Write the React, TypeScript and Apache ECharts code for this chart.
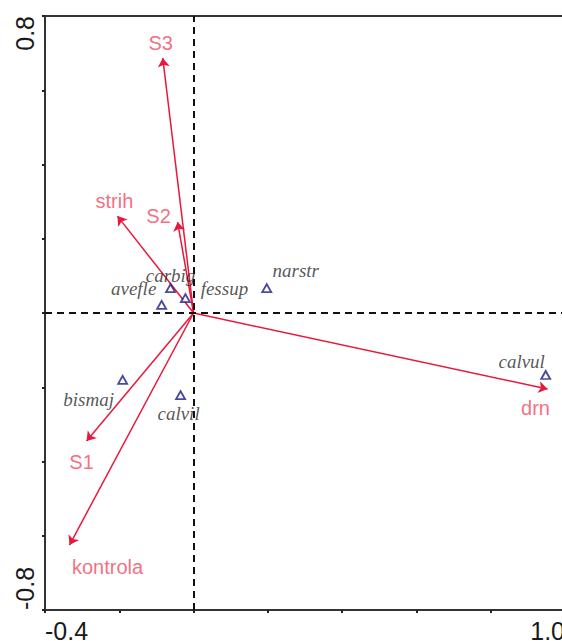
import React, { useEffect, useRef } from "react";
import * as echarts from "echarts";

// Environmental variables (arrow tips, ordination scores)
const envNames = ["S3", "strih", "S2", "S1", "kontrola", "drn"];
const envX = [-0.083, -0.205, -0.043, -0.288, -0.334, 0.953];
const envY = [0.687, 0.261, 0.245, -0.345, -0.625, -0.205];
const envLabelOffsets = [
  [-2, -15],
  [-3, -15],
  [-19, -6],
  [-5, 21],
  [38, 22],
  [-12, 19],
];

// Species scores
const speciesNames = ["carbig", "avefle", "fessup", "narstr", "bismaj", "calvil", "calvul"];
const speciesX = [-0.062, -0.086, -0.022, 0.197, -0.191, -0.035, 0.948];
const speciesY = [0.067, 0.022, 0.04, 0.067, -0.18, -0.221, -0.167];
const speciesLabelOffsets = [
  [0, -13],
  [-28, -16],
  [39, -10],
  [29, -18],
  [-34, 20],
  [-2, 18],
  [-24, -13],
];

// Axes
const xRange = [-0.4, 1.0];
const yRange = [-0.8, 0.8];
const tickStep = 0.2;
const xTickLabels = ["-0.4", "1.0"];
const yTickLabels = ["-0.8", "0.8"];

const ARROW = "#e8183c";
const ARROW_TEXT = "#ef4a60";
const SPECIES = "#1c1c8a";
const FRAME = "#333333";

const endLabel = (labels: string[], range: number[]) => (v: number) => {
  if (Math.abs(v - range[0]) < 1e-9) return labels[0];
  if (Math.abs(v - range[1]) < 1e-9) return labels[1];
  return "";
};

export default function App() {
  const ref = useRef<HTMLDivElement>(null);

  useEffect(() => {
    if (!ref.current) return;
    const chart = echarts.init(ref.current, undefined, { renderer: "svg" });

    const tickFont = {
      fontFamily: "Liberation Sans, Arial, sans-serif",
      fontSize: 25,
      color: "#1a1a1a",
    };

    chart.setOption({
      animation: false,
      backgroundColor: "#ffffff",
      grid: {
        left: 45,
        top: 16,
        width: 520,
        height: 594,
        outerBoundsMode: "none",
        containLabel: false,
        show: true,
        borderColor: FRAME,
        borderWidth: 2,
        backgroundColor: "transparent",
      },
      xAxis: {
        type: "value",
        min: xRange[0],
        max: xRange[1],
        interval: tickStep,
        splitLine: { show: false },
        axisLine: { show: true, onZero: false, lineStyle: { color: FRAME, width: 2 } },
        axisTick: { show: true, length: 3, lineStyle: { color: "#222", width: 2 } },
        axisLabel: {
          ...tickFont,
          margin: 8,
          showMinLabel: true,
          showMaxLabel: true,
          alignMinLabel: "left",
          alignMaxLabel: "right",
          formatter: endLabel(xTickLabels, xRange),
        },
      },
      yAxis: {
        type: "value",
        min: yRange[0],
        max: yRange[1],
        interval: tickStep,
        splitLine: { show: false },
        axisLine: { show: true, onZero: false, lineStyle: { color: FRAME, width: 2 } },
        axisTick: { show: true, length: 3, lineStyle: { color: "#222", width: 2 } },
        axisLabel: {
          ...tickFont,
          rotate: 90,
          margin: 8,
          showMinLabel: true,
          showMaxLabel: true,
          alignMinLabel: "left",
          alignMaxLabel: "right",
          formatter: endLabel(yTickLabels, yRange),
        },
      },
      series: [
        {
          // zero reference lines
          type: "scatter",
          data: [],
          silent: true,
          markLine: {
            silent: true,
            symbol: ["none", "none"],
            label: { show: false },
            lineStyle: { color: "#111", width: 2, type: [7, 5] },
            data: [{ xAxis: 0 }, { yAxis: 0 }],
          },
        },
        {
          type: "lines",
          coordinateSystem: "cartesian2d",
          silent: true,
          symbol: ["none", "arrow"],
          symbolSize: 9,
          lineStyle: { color: ARROW, width: 1.5, opacity: 1 },
          data: envNames.map((n, i) => ({
            name: n,
            coords: [
              [0, 0],
              [envX[i], envY[i]],
            ],
          })),
        },
        {
          type: "scatter",
          silent: true,
          symbol: "circle",
          symbolSize: 1,
          itemStyle: { color: "transparent" },
          data: envNames.map((n, i) => ({
            name: n,
            value: [envX[i], envY[i]],
            label: { offset: envLabelOffsets[i] },
          })),
          label: {
            show: true,
            position: "inside",
            align: "center",
            verticalAlign: "middle",
            formatter: "{b}",
            color: ARROW_TEXT,
            fontFamily: "Liberation Sans, Arial, sans-serif",
            fontSize: 20,
          },
        },
        {
          type: "scatter",
          silent: true,
          symbol: "triangle",
          symbolSize: [9, 8],
          itemStyle: { color: "#ffffff", borderColor: SPECIES, borderWidth: 1.8 },
          data: speciesNames.map((n, i) => ({
            name: n,
            value: [speciesX[i], speciesY[i]],
            label: { offset: speciesLabelOffsets[i] },
          })),
          label: {
            show: true,
            position: "inside",
            align: "center",
            verticalAlign: "middle",
            formatter: "{b}",
            color: "#2a2a2a",
            fontFamily: "Liberation Serif, serif",
            fontStyle: "italic",
            fontSize: 19,
          },
        },
      ],
    });

    return () => chart.dispose();
  }, []);

  return (
    <div
      ref={ref}
      style={{ position: "fixed", left: 0, top: 0, width: 562, height: 641 }}
    />
  );
}
